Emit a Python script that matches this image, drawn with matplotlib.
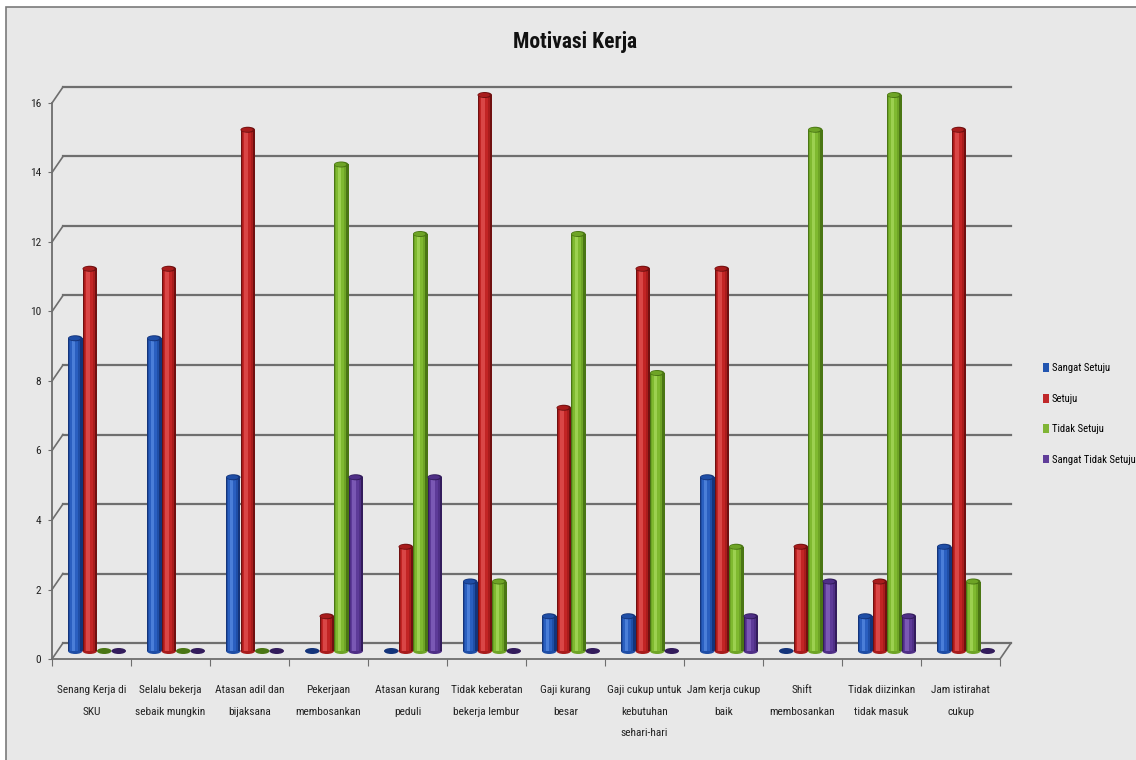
import warnings
import matplotlib
matplotlib.use("Agg")
import matplotlib.pyplot as plt
from matplotlib import font_manager
from matplotlib.font_manager import FontProperties
from matplotlib.textpath import TextToPath
from matplotlib.patches import Rectangle, Ellipse, Patch
import numpy as np

warnings.filterwarnings("ignore")

# data
categories = [
    "Senang Kerja di\nSKU",
    "Selalu bekerja\nsebaik mungkin",
    "Atasan adil dan\nbijaksana",
    "Pekerjaan\nmembosankan",
    "Atasan kurang\npeduli",
    "Tidak keberatan\nbekerja lembur",
    "Gaji kurang\nbesar",
    "Gaji cukup untuk\nkebutuhan\nsehari-hari",
    "Jam kerja cukup\nbaik",
    "Shift\nmembosankan",
    "Tidak diizinkan\ntidak masuk",
    "Jam istirahat\ncukup",
]
sangat_setuju = [9, 9, 5, 0, 0, 2, 1, 1, 5, 0, 1, 3]
setuju = [11, 11, 15, 1, 3, 16, 7, 11, 11, 3, 2, 15]
tidak_setuju = [0, 0, 0, 14, 12, 2, 12, 8, 3, 15, 16, 2]
sangat_tidak_setuju = [0, 0, 0, 5, 5, 0, 0, 0, 1, 2, 1, 0]
series_names = ["Sangat Setuju", "Setuju", "Tidak Setuju", "Sangat Tidak Setuju"]
y_ticks = [0, 2, 4, 6, 8, 10, 12, 14, 16]

series_values = [sangat_setuju, setuju, tidak_setuju, sangat_tidak_setuju]
# (dark edge, body, lighter, highlight)
shades = [
    ("#14347a", "#1f4ea6", "#2a5fc0", "#4a7ed8"),
    ("#701010", "#a81c1c", "#c22424", "#d94646"),
    ("#4a7614", "#6ea426", "#7fb930", "#9cd050"),
    ("#331c5c", "#4f2f86", "#5d3a98", "#7a58b4"),
]
legend_colors = ["#2255b0", "#c0282a", "#80b535", "#603d99"]

# pick the installed sans face closest to the squeezed Calibri of the original
t2p = TextToPath()


def text_px(text, prop):
    w, h, d = t2p.get_text_width_height_descent(text, prop, ismath=False)
    return w * 100 / 72, (h - d) * 100 / 72


bases = ["DejaVu Sans", "Liberation Sans", "Noto Sans", "Roboto", "Open Sans", "Lato", "Inter"]
suffixes = ["", " Narrow", " Condensed", " SemiCondensed", " ExtraCondensed",
            " Semi Condensed", " Extra Condensed"]
allowed = {b + s for b in bases for s in suffixes}

weights = {}
for f in font_manager.fontManager.ttflist:
    if f.name not in allowed or f.style != "normal":
        continue
    wt = f.weight if isinstance(f.weight, int) else font_manager.weight_dict.get(f.weight, 400)
    weights.setdefault((f.name, str(f.stretch)), set()).add(wt)

best = (99, "DejaVu Sans", "normal")
for (name, stretch), wts in sorted(weights.items()):
    if not (400 in wts and any(w >= 600 for w in wts)):
        continue
    p = FontProperties(family=name, stretch=stretch, size=10)
    w, _ = text_px("Senang Kerja di", p)
    _, cap = text_px("H", p)
    if cap <= 0 or w <= 0:
        continue
    score = abs(w / cap - 6.2)
    if score < best[0]:
        best = (score, name, stretch)
_, FAMILY, STRETCH = best
plt.rcParams["font.family"] = [FAMILY, "DejaVu Sans"]
plt.rcParams["font.stretch"] = STRETCH


def size_for(text, target_px, weight="normal"):
    p = FontProperties(family=FAMILY, stretch=STRETCH, size=10, weight=weight)
    w, _ = text_px(text, p)
    return 10 * target_px / w


fs_lbl = size_for("Senang Kerja di", 70)
fs_leg = size_for("Sangat Setuju", 58)
fs_title = size_for("Motivasi Kerja", 124, "bold")
_, l_asc = text_px("lp", FontProperties(family=FAMILY, stretch=STRETCH, size=fs_lbl))

W, H = 1136, 760
fig = plt.figure(figsize=(W / 100, H / 100), dpi=100)
fig.patch.set_facecolor("white")
fig.add_artist(Rectangle((6 / W, -0.05), 1.0, 1 - 7 / H + 0.05, transform=fig.transFigure,
                         facecolor="#e8e8e8", edgecolor="#7a7a7a", linewidth=1.2, zorder=0))

ax = fig.add_axes([52 / W, (H - 659) / H, 948 / W, 556 / H])
ax.set_autoscale_on(False)
ax.set_xlim(0, 12)
ax.set_ylim(0, 16)
ax.patch.set_alpha(0)

grid_c = "#6e6e6e"
n = len(categories)
# 3d depth in data units (pixel offsets of the back wall)
DX = 11 / (948 / n)
DY = 16 / (556 / 16)
BW = 14.5 / (948 / n)
EH = 6 / (556 / 16)

# back wall gridlines + connectors
for v in y_ticks:
    ax.plot([DX, n + DX], [v + DY, v + DY], color=grid_c, lw=1.6, clip_on=False, zorder=1)
    ax.plot([0, DX], [v, v + DY], color=grid_c, lw=1.2, clip_on=False, zorder=1)
ax.plot([n, n + DX], [0, DY], color=grid_c, lw=1.2, clip_on=False, zorder=1)

centers = np.arange(n) + 0.5
layers = [(1.0, 0.0), (0.78, -0.04), (0.55, -0.08), (0.25, -0.12)]
for j, vals in enumerate(series_values):
    vals = np.array(vals, dtype=float)
    xc = centers + (j - 1.5) * BW + DX / 2
    dark, body, lighter, hi = shades[j]
    z = 3 + j
    for k, (frac, off) in enumerate(layers):
        ax.bar(xc + off * BW, vals, width=frac * BW, bottom=DY / 2,
               color=(dark, body, lighter, hi)[k], linewidth=0, zorder=z + 0.1 * k,
               clip_on=False)
    for x, v in zip(xc, vals):
        if v > 0:
            ax.add_patch(Ellipse((x, DY / 2), BW, EH, facecolor=body, edgecolor="none",
                                 zorder=z - 0.05, clip_on=False))
            ax.add_patch(Ellipse((x, v + DY / 2), BW, EH, facecolor=dark, edgecolor="none",
                                 zorder=z + 0.5, clip_on=False))
            ax.add_patch(Ellipse((x - 0.05 * BW, v + DY / 2), BW * 0.8, EH * 0.7, facecolor=body,
                                 edgecolor="none", zorder=z + 0.55, clip_on=False))
        else:
            ax.add_patch(Ellipse((x, DY / 2), BW, EH, facecolor=dark, edgecolor="none",
                                 zorder=z + 0.5, clip_on=False))

for side in ["top", "right"]:
    ax.spines[side].set_visible(False)
for side in ["left", "bottom"]:
    ax.spines[side].set_color(grid_c)
    ax.spines[side].set_linewidth(1.3)

ax.set_yticks(y_ticks)
ax.tick_params(axis="y", direction="out", length=3, color=grid_c, labelsize=fs_lbl,
               labelcolor="#222222", pad=5)
ax.set_xticks(np.arange(n + 1))
ax.set_xticklabels([])
ax.set_xticks(centers, minor=True)
ax.set_xticklabels(categories, minor=True)
ax.tick_params(axis="x", which="major", direction="out", length=5, color=grid_c)
ax.tick_params(axis="x", which="minor", length=0, pad=19, labelsize=fs_lbl, labelcolor="#222222")
for lbl in ax.get_xticklabels(minor=True):
    lbl.set_linespacing(0.97 * 21.5 / l_asc)
    lbl.set_verticalalignment("top")

fig.text(575 / W, 1 - 42 / H, "Motivasi Kerja", ha="center", va="center",
         fontsize=fs_title, fontweight="bold", color="#111111")

handles = [Patch(facecolor=c, edgecolor="none") for c in legend_colors]
fig.legend(handles, series_names, loc="center left", bbox_to_anchor=(1043 / W, 1 - 414 / H),
           frameon=False, fontsize=fs_leg, handlelength=0.55, handleheight=0.9,
           handletextpad=0.3, labelspacing=(31 / (fs_leg * 100 / 72)) - 1.0,
           borderaxespad=0, borderpad=0)

fig.savefig("out.png", dpi=100)
